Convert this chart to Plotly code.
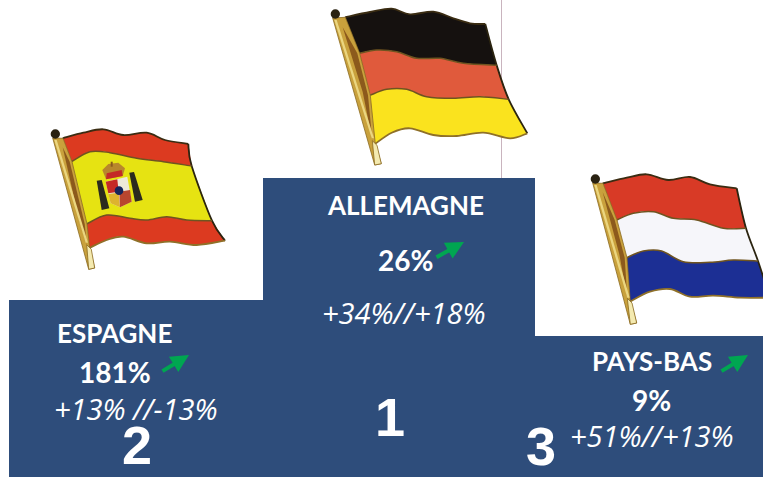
import plotly.graph_objects as go

# ---------- data ----------
countries = ["ESPAGNE", "ALLEMAGNE", "PAYS-BAS"]
ranks = ["2", "1", "3"]
podium_heights = [177, 299, 141]
growth_total = ["181%", "26%", "9%"]
growth_detail = ["+13% //-13%", "+34%//+18%", "+51%//+13%"]

# ---------- layout constants (page pixels) ----------
W, H = 763, 477
NAVY = "#2E4D7B"
GREEN = "#00A651"
bar_centres = [136, 399, 649]
bar_widths = [254, 272, 228]


def Y(y):
    return H - y


def spline(pts):
    """Catmull-Rom through pts -> SVG cubic segments (without initial move)."""
    out = ""
    n = len(pts)
    for i in range(n - 1):
        p0 = pts[max(i - 1, 0)]
        p1 = pts[i]
        p2 = pts[i + 1]
        p3 = pts[min(i + 2, n - 1)]
        c1 = (p1[0] + (p2[0] - p0[0]) / 6, p1[1] + (p2[1] - p0[1]) / 6)
        c2 = (p2[0] - (p3[0] - p1[0]) / 6, p2[1] - (p3[1] - p1[1]) / 6)
        out += f" C {c1[0]:.1f} {c1[1]:.1f} {c2[0]:.1f} {c2[1]:.1f} {p2[0]:.1f} {p2[1]:.1f}"
    return out


shapes = []


def tf(pts, org):
    # crops were read at 3x: convert to page px, then flip y for the axis
    return [(org[0] + x / 3, Y(org[1] + y / 3)) for x, y in pts]


def add_poly(pts, org, fill, line=None, lw=0):
    p = tf(pts, org)
    d = f"M {p[0][0]:.1f} {p[0][1]:.1f}" + "".join(f" L {x:.1f} {y:.1f}" for x, y in p[1:]) + " Z"
    shapes.append(dict(type="path", xref="x", yref="y", path=d, fillcolor=fill,
                       line=dict(color=line or fill, width=lw)))


def add_band(top, bottom, org, fill):
    a = tf(top, org)
    b = tf(bottom, org)[::-1]
    d = (f"M {a[0][0]:.1f} {a[0][1]:.1f}" + spline(a) + f" L {b[0][0]:.1f} {b[0][1]:.1f}"
         + spline(b) + " Z")
    shapes.append(dict(type="path", xref="x", yref="y", path=d, fillcolor=fill,
                       line=dict(color="rgba(0,0,0,0)", width=0)))


def add_curve(pts, org, color, lw):
    p = tf(pts, org)
    d = f"M {p[0][0]:.1f} {p[0][1]:.1f}" + spline(p)
    shapes.append(dict(type="path", xref="x", yref="y", path=d,
                       fillcolor="rgba(0,0,0,0)", line=dict(color=color, width=lw)))


def add_circle(cx, cy, r, org, fill):
    x, y = tf([(cx, cy)], org)[0]
    rr = r / 3
    shapes.append(dict(type="circle", xref="x", yref="y", x0=x - rr, x1=x + rr,
                       y0=y - rr, y1=y + rr, fillcolor=fill, line=dict(width=0)))


def add_flag(org, edges, colours, pole):
    for top, bottom, c in zip(edges[:-1], edges[1:], colours):
        add_band(top, bottom, org, c)
    right = [e[-1] for e in edges]
    add_curve(right, org, "#2b2410", 1.8)
    add_curve(edges[0], org, "#3a2c12", 1.8)
    for e in edges[1:-1]:
        add_curve(e, org, "#6f5420", 1.5)
    add_curve(edges[-1], org, "#8f7028", 1.8)
    # pole: lens shape between a straight outer side and the flag's hoist
    (kx, ky), (bx, by), w = pole
    hoist = [e[0] for e in edges]
    mx, my = hoist[2]
    add_poly([(kx - 8, ky + 12)] + [(x + 1, y) for x, y in hoist] + [(bx + w, by - 4), (bx - 4, by)],
             org, "#C9A13C", "#8a6a20", 0.8)
    # dark reflection inside the lens
    add_poly([(kx + 22, ky + 40), (hoist[1][0] - 6, hoist[1][1]), (mx - 6, my), (hoist[3][0] - 8, hoist[3][1] - 12),
              (mx - 22, my - 10)], org, "#8C5A1C")
    # highlights along the outer side
    add_poly([(kx - 3, ky + 18), (kx + 4, ky + 18), (bx - 6, by - 80), (bx - 13, by - 80)], org, "#EBD680")
    add_poly([(hoist[3][0] - 8, hoist[3][1] - 10), (hoist[3][0] + 6, hoist[3][1] + 4), (bx + w, by - 4), (bx - 4, by)],
             org, "#F4EAB0", "#8a6a20", 0.8)
    add_circle(kx, ky, 14, org, "#2A2212")


# ---------- Germany ----------
de_org = (320, 0)
de_edges = [
    [(75, 52), (150, 36), (215, 26), (270, 43), (340, 35), (400, 55), (450, 70), (496, 72)],
    [(118, 160), (170, 150), (230, 155), (290, 175), (360, 175), (430, 190), (530, 196)],
    [(150, 286), (200, 268), (260, 268), (320, 290), (400, 295), (480, 290), (566, 298)],
    [(165, 432), (215, 398), (270, 385), (340, 405), (410, 408), (490, 398), (570, 415), (622, 400)],
]
de_cols = ["#15110F", "#E05A3C", "#FAE31E"]

# ---------- Spain ----------
es_org = (40, 120)
es_edges = [
    [(68, 55), (130, 38), (190, 28), (250, 45), (320, 38), (375, 60), (445, 72)],
    [(95, 125), (150, 95), (210, 98), (290, 115), (370, 125), (455, 138)],
    [(140, 312), (200, 285), (270, 295), (320, 300), (380, 290), (440, 300), (516, 302)],
    [(148, 384), (200, 360), (250, 350), (320, 370), (390, 365), (470, 375), (555, 362)],
]
es_cols = ["#DC3A20", "#E6E312", "#DC3A20"]

# ---------- Netherlands ----------
nl_org = (580, 165)
nl_edges = [
    [(68, 55), (140, 38), (200, 28), (265, 45), (330, 36), (390, 58), (470, 70)],
    [(110, 165), (160, 145), (220, 140), (280, 160), (350, 165), (430, 190), (498, 190)],
    [(140, 278), (190, 258), (245, 258), (310, 290), (390, 292), (460, 285), (534, 288)],
    [(150, 410), (210, 380), (270, 372), (330, 395), (400, 392), (480, 398), (570, 398)],
]
nl_cols = ["#D83A26", "#F6F6FA", "#1C2F94"]

add_flag(de_org, de_edges, de_cols, ((46, 42), (168, 495), 16))
add_flag(es_org, es_edges, es_cols, ((46, 42), (150, 448), 14))
add_flag(nl_org, nl_edges, nl_cols, ((46, 42), (155, 478), 15))

# Spanish coat of arms
add_poly([(170, 182), (185, 180), (208, 265), (185, 270)], es_org, "#2B2A1E")
add_poly([(268, 158), (282, 156), (308, 240), (285, 245)], es_org, "#2B2A1E")
add_poly([(187, 150), (205, 132), (235, 128), (255, 145), (248, 168), (198, 178)], es_org, "#B8872C")
add_poly([(200, 160), (245, 150), (248, 168), (198, 178)], es_org, "#C42A26")
add_poly([(197, 185), (262, 170), (275, 245), (240, 262), (212, 250)], es_org, "#EDE9D8")
add_poly([(197, 185), (232, 178), (236, 215), (205, 220)], es_org, "#C42A26")
add_poly([(205, 222), (236, 218), (240, 262), (212, 250)], es_org, "#DDB32E")
add_poly([(238, 215), (270, 210), (275, 245), (240, 262)], es_org, "#B8452E")
add_circle(237, 212, 13, es_org, "#15245A")
add_poly([(212, 125), (218, 125), (218, 140), (212, 140)], es_org, "#8A5A1E")

# thin vertical line behind the German flag's right side
shapes.insert(0, dict(type="line", xref="x", yref="y", x0=501.5, x1=501.5, y0=Y(0), y1=Y(178),
                      line=dict(color="#C9B4BE", width=1), layer="below"))

# ---------- figure ----------
fig = go.Figure(go.Bar(x=bar_centres, y=podium_heights, width=bar_widths,
                       marker=dict(color=NAVY, line=dict(width=0)),
                       hoverinfo="skip", showlegend=False))

LABEL = "Lato"
ann = []


def text(x, y, s, size, family=LABEL):
    ann.append(dict(x=x, y=Y(y), xref="x", yref="y", text=s, showarrow=False,
                    xanchor="center", yanchor="middle",
                    font=dict(family=family, size=size, color="white")))


name_pos = [(114, 333), (405, 205), (652, 361)]
total_pos = [(115, 372), (405, 260), (651, 400)]
detail_pos = [(136, 408), (404, 312), (652, 435)]
rank_pos = [(137, 445), (390, 417), (541, 446)]
arrows = [((161, 372), (189, 355)), ((435, 258), (464, 242)), ((720, 372), (748, 355))]

for i in range(3):
    text(*name_pos[i], f"<b>{countries[i]}</b>", 26)
    text(*total_pos[i], f"<b>{growth_total[i]}</b>", 28)
    text(*detail_pos[i], f"<i>{growth_detail[i]}</i>", 29, family="Open Sans")
    text(*rank_pos[i], f"<b>{ranks[i]}</b>", 54, family="Liberation Sans")
    (tx, ty), (hx, hy) = arrows[i]
    ann.append(dict(x=hx, y=Y(hy), ax=tx, ay=Y(ty), xref="x", yref="y", axref="x", ayref="y",
                    text="", showarrow=True, arrowhead=2, arrowsize=0.9, arrowwidth=4,
                    arrowcolor=GREEN, standoff=0))

fig.update_layout(
    width=W, height=H, autosize=False,
    margin=dict(l=0, r=0, t=0, b=0),
    paper_bgcolor="white", plot_bgcolor="white",
    xaxis=dict(range=[0, W], visible=False, fixedrange=True),
    yaxis=dict(range=[0, H], visible=False, fixedrange=True),
    shapes=shapes, annotations=ann,
    bargap=0, showlegend=False,
)
fig.write_html("out.html", config=dict(displayModeBar=False),
               post_script="document.body.style.margin='0';document.body.style.overflow='hidden';")
